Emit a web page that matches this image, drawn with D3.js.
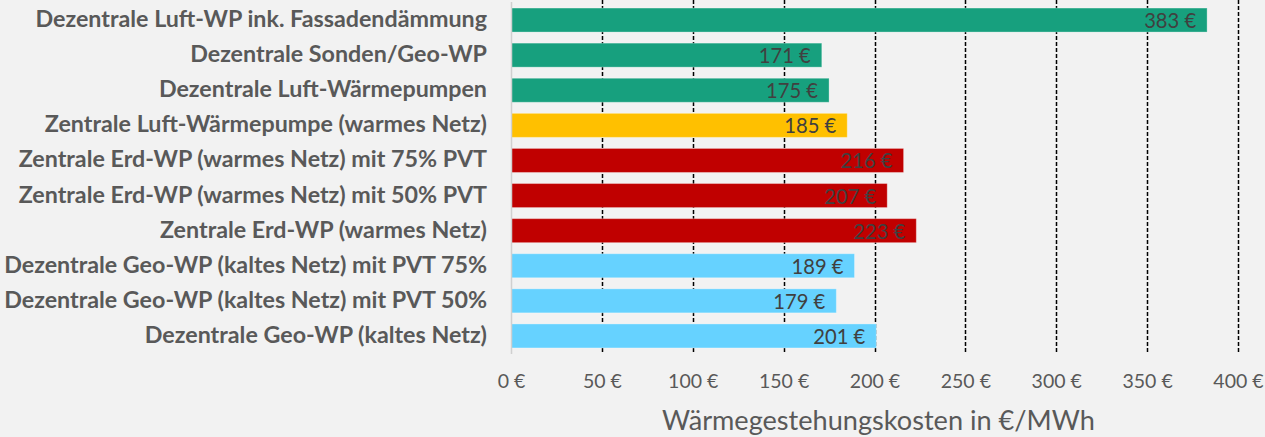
<!DOCTYPE html>
<html>
<head>
<meta charset="utf-8">
<script src="https://cdn.jsdelivr.net/npm/d3@7"></script>
<style>
  body { margin: 0; background: #f2f2f2; }
  svg { display: block; font-family: Lato, "Open Sans", sans-serif; }
</style>
</head>
<body>
<svg width="1265" height="437"></svg>
<script>
const categories = [
  "Dezentrale Luft-WP ink. Fassadendämmung",
  "Dezentrale Sonden/Geo-WP",
  "Dezentrale Luft-Wärmepumpen",
  "Zentrale Luft-Wärmepumpe (warmes Netz)",
  "Zentrale Erd-WP (warmes Netz) mit 75% PVT",
  "Zentrale Erd-WP (warmes Netz) mit 50% PVT",
  "Zentrale Erd-WP (warmes Netz)",
  "Dezentrale Geo-WP (kaltes Netz) mit PVT 75%",
  "Dezentrale Geo-WP (kaltes Netz) mit PVT 50%",
  "Dezentrale Geo-WP (kaltes Netz)"
];
const values = [383, 171, 175, 185, 216, 207, 223, 189, 179, 201];
const groups = ["dezentral", "dezentral", "dezentral", "zentral-luft", "zentral-erd", "zentral-erd", "zentral-erd", "kalt", "kalt", "kalt"];
const tickValues = [0, 50, 100, 150, 200, 250, 300, 350, 400];
const axisTitle = "Wärmegestehungskosten in €/MWh";

const svg = d3.select("svg");

const color = d3.scaleOrdinal()
  .domain(["dezentral", "zentral-luft", "zentral-erd", "kalt"])
  .range(["#17a07e", "#ffc000", "#c00000", "#66d2ff"]);

const x = d3.scaleLinear().domain([0, 400]).range([511, 1238]);
const y = d3.scaleBand()
  .domain(categories)
  .range([2.5, 353.5])
  .paddingInner(0.316)
  .paddingOuter(0.158);

// fit a text element's font size to a target width
function fit(sel, target) {
  const size = +sel.attr("font-size");
  const w = sel.node().getComputedTextLength();
  return size * target / w;
}

// grid lines (behind bars)
svg.append("g")
  .selectAll("line")
  .data(tickValues.filter(d => d > 0))
  .enter()
  .append("line")
  .attr("x1", d => Math.round(x(d)) + 0.5)
  .attr("x2", d => Math.round(x(d)) + 0.5)
  .attr("y1", 0)
  .attr("y2", 354)
  .attr("stroke", "#000")
  .attr("stroke-width", 1.5)
  .attr("stroke-dasharray", "4,2");

// bars
svg.append("g")
  .selectAll("rect")
  .data(categories)
  .enter()
  .append("rect")
  .attr("x", x(0))
  .attr("y", d => y(d))
  .attr("width", (d, i) => x(values[i]) - x(0))
  .attr("height", y.bandwidth())
  .attr("fill", (d, i) => color(groups[i]))
  .attr("stroke", "rgba(255,255,255,0.3)")
  .attr("stroke-width", 1);

// axis line at zero
svg.append("line")
  .attr("x1", x(0) + 0.5)
  .attr("x2", x(0) + 0.5)
  .attr("y1", 2)
  .attr("y2", 354)
  .attr("stroke", "#d0d0d0")
  .attr("stroke-width", 1.5);

// category labels
const probe = svg.append("text").attr("font-size", 20).attr("font-weight", "bold").text(categories[0]);
const labelSize = fit(probe, 452);
probe.remove();

svg.append("g")
  .selectAll("text")
  .data(categories)
  .enter()
  .append("text")
  .attr("x", 487)
  .attr("y", d => y(d) + y.bandwidth() / 2 + 7)
  .attr("text-anchor", "end")
  .attr("font-size", labelSize)
  .attr("font-weight", "bold")
  .attr("fill", "#595959")
  .text(d => d);

// value labels
const probe2 = svg.append("text").attr("font-size", 20).text("383 €");
const valueSize = fit(probe2, 52);
probe2.remove();

svg.append("g")
  .selectAll("text")
  .data(categories)
  .enter()
  .append("text")
  .attr("x", (d, i) => x(values[i]) - 11)
  .attr("y", d => y(d) + y.bandwidth() / 2 + 8)
  .attr("text-anchor", "end")
  .attr("font-size", valueSize)
  .attr("fill", "#404040")
  .text((d, i) => values[i] + " €");

// x axis tick labels
const probe3 = svg.append("text").attr("font-size", 20).text("50 €");
const tickSize = fit(probe3, 39);
probe3.remove();

const axis = svg.append("g")
  .attr("transform", "translate(0,367)")
  .call(d3.axisBottom(x).tickValues(tickValues).tickSize(0).tickPadding(0).tickFormat(d => d + " €"));
axis.select(".domain").remove();
axis.selectAll("text")
  .attr("dy", null)
  .attr("y", 21)
  .attr("font-size", tickSize)
  .attr("font-family", "Lato, 'Open Sans', sans-serif")
  .attr("fill", "#595959");

// axis title
const title = svg.append("text")
  .attr("x", 878.5)
  .attr("y", 430)
  .attr("text-anchor", "middle")
  .attr("font-size", 28)
  .attr("fill", "#595959")
  .text(axisTitle);
title.attr("font-size", fit(title, 433));
</script>
</body>
</html>
